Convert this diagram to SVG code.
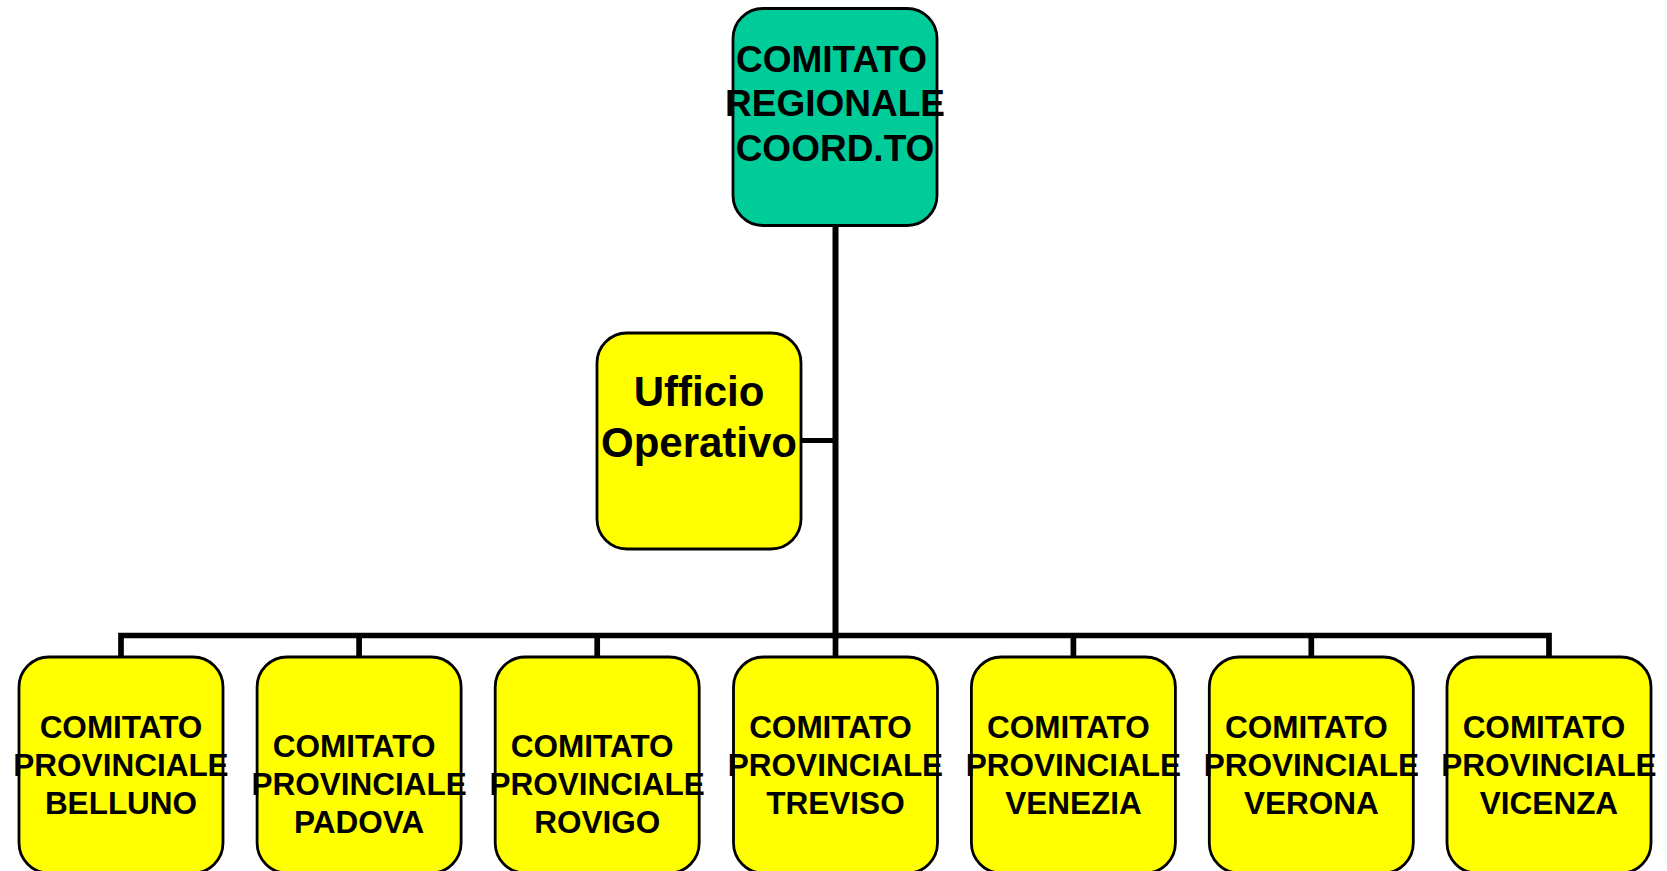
<svg xmlns="http://www.w3.org/2000/svg" width="1667" height="871" viewBox="0 0 1667 871">
<style>
.box{stroke:#000;stroke-width:2.8}
.top{fill:#00CC99}
.yel{fill:#FFFF00}
text{font-family:"Liberation Sans",Arial,sans-serif;font-weight:bold;fill:#000;text-anchor:middle}
.t1{font-size:37px}
.t2{font-size:42px}
.t3{font-size:31.5px}
.conn{stroke:#000;fill:none;stroke-linecap:butt}
</style>
<rect width="1667" height="871" fill="#fff"/>
<g id="connectors">
<line class="conn" x1="835.5" y1="225" x2="835.5" y2="638.5" stroke-width="6"/>
<line class="conn" x1="801" y1="440.5" x2="835" y2="440.5" stroke-width="5"/>
<polyline class="conn" points="121,657 121,635.5 1549,635.5 1549,657" stroke-width="5.7"/>
<line class="conn" x1="359.1" y1="635" x2="359.1" y2="657" stroke-width="5.7"/>
<line class="conn" x1="597.2" y1="635" x2="597.2" y2="657" stroke-width="5.7"/>
<line class="conn" x1="835.5" y1="635" x2="835.5" y2="657" stroke-width="5.7"/>
<line class="conn" x1="1073.4" y1="635" x2="1073.4" y2="657" stroke-width="5.7"/>
<line class="conn" x1="1311.3" y1="635" x2="1311.3" y2="657" stroke-width="5.7"/>
</g>
<g id="regionale">
<rect class="box top" x="733" y="8.5" width="204" height="217" rx="30" ry="30"/>
<text class="t1" x="831.5" y="71.5">COMITATO</text>
<text class="t1" x="835" y="116">REGIONALE</text>
<text class="t1" x="835" y="160.5">COORD.TO</text>
</g>
<g id="ufficio">
<rect class="box yel" x="597" y="333" width="204" height="216" rx="30" ry="30"/>
<text class="t2" x="699" y="406">Ufficio</text>
<text class="t2" x="699" y="457">Operativo</text>
</g>
<g id="belluno">
<rect class="box yel" x="19" y="657" width="204" height="216" rx="30" ry="30"/>
<text class="t3" x="121" y="738">COMITATO</text>
<text class="t3" x="121" y="776">PROVINCIALE</text>
<text class="t3" x="121" y="814">BELLUNO</text>
</g>
<g id="padova">
<rect class="box yel" x="257.1" y="657" width="204" height="216" rx="30" ry="30"/>
<text class="t3" x="354.1" y="757">COMITATO</text>
<text class="t3" x="359.1" y="795">PROVINCIALE</text>
<text class="t3" x="359.1" y="833">PADOVA</text>
</g>
<g id="rovigo">
<rect class="box yel" x="495.2" y="657" width="204" height="216" rx="30" ry="30"/>
<text class="t3" x="592.2" y="757">COMITATO</text>
<text class="t3" x="597.2" y="795">PROVINCIALE</text>
<text class="t3" x="597.2" y="833">ROVIGO</text>
</g>
<g id="treviso">
<rect class="box yel" x="733.5" y="657" width="204" height="216" rx="30" ry="30"/>
<text class="t3" x="830.5" y="738">COMITATO</text>
<text class="t3" x="835.5" y="776">PROVINCIALE</text>
<text class="t3" x="835.5" y="814">TREVISO</text>
</g>
<g id="venezia">
<rect class="box yel" x="971.4" y="657" width="204" height="216" rx="30" ry="30"/>
<text class="t3" x="1068.4" y="738">COMITATO</text>
<text class="t3" x="1073.4" y="776">PROVINCIALE</text>
<text class="t3" x="1073.4" y="814">VENEZIA</text>
</g>
<g id="verona">
<rect class="box yel" x="1209.3" y="657" width="204" height="216" rx="30" ry="30"/>
<text class="t3" x="1306.3" y="738">COMITATO</text>
<text class="t3" x="1311.3" y="776">PROVINCIALE</text>
<text class="t3" x="1311.3" y="814">VERONA</text>
</g>
<g id="vicenza">
<rect class="box yel" x="1447" y="657" width="204" height="216" rx="30" ry="30"/>
<text class="t3" x="1544" y="738">COMITATO</text>
<text class="t3" x="1549" y="776">PROVINCIALE</text>
<text class="t3" x="1549" y="814">VICENZA</text>
</g>
</svg>
